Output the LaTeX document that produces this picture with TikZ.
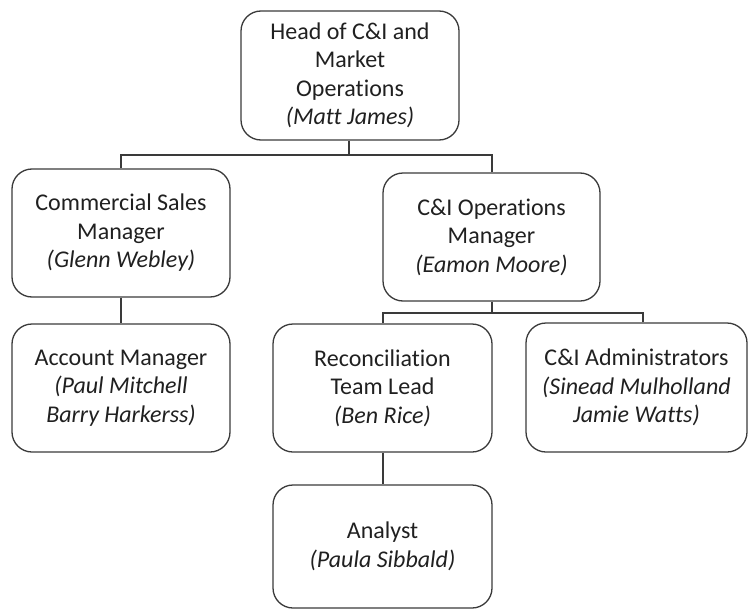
\documentclass[tikz,border=0pt]{standalone}
\usepackage{fontspec}
\setmainfont{Carlito}[Ligatures={NoCommon,NoRare}]
\definecolor{txt}{HTML}{202020}
\definecolor{edge}{HTML}{3A3A3A}
\begin{document}
\begin{tikzpicture}[x=1pt,y=-1pt,
  box/.style={draw=edge, line width=1.3pt, rounded corners=20pt, inner sep=0pt,
    align=center, text=txt, font=\fontsize{24}{28.5}\selectfont},
  conn/.style={draw=edge, line width=1.3pt}]
\useasboundingbox (0,0) rectangle (749,610);
\node[box, minimum width=218pt, minimum height=129pt] (head) at (350,75.5)
  {Head of C\&I and\\Market\\Operations\\\textit{(Matt James)}};
\node[box, minimum width=218pt, minimum height=128pt] (comm) at (121,233)
  {Commercial Sales\\Manager\\\textit{(Glenn Webley)}};
\node[box, minimum width=217pt, minimum height=128pt] (ops) at (491.5,237)
  {C\&I Operations\\Manager\\\textit{(Eamon Moore)}};
\node[box, minimum width=218pt, minimum height=128pt] (acct) at (121,388)
  {Account Manager\\\textit{(Paul Mitchell}\\\textit{Barry Harkerss)}};
\node[box, minimum width=219pt, minimum height=128pt] (recon) at (382.5,388)
  {Reconciliation\\Team Lead\\\textit{(Ben Rice)}};
\node[box, minimum width=221pt, minimum height=129pt] (admin) at (636.5,387.5)
  {C\&I Administrators\\\textit{(Sinead Mulholland}\\\textit{Jamie Watts)}};
\node[box, minimum width=219pt, minimum height=123pt] (analyst) at (382.5,546.5)
  {Analyst\\\textit{(Paula Sibbald)}};
\coordinate (j1) at (349,155);
\coordinate (j2) at (492,313);
\draw[conn] ([xshift=-1pt]head.south) -- (j1);
\draw[conn] (comm.north) |- (j1);
\draw[conn] ([xshift=0.5pt]ops.north) |- (j1);
\draw[conn] (comm.south) -- (acct.north);
\draw[conn] ([xshift=0.5pt]ops.south) -- (j2);
\draw[conn] ([xshift=0.5pt]recon.north) |- (j2);
\draw[conn] ([xshift=6.5pt]admin.north) |- (j2);
\draw[conn] ([xshift=0.5pt]recon.south) -- ([xshift=0.5pt]analyst.north);
\end{tikzpicture}
\end{document}
